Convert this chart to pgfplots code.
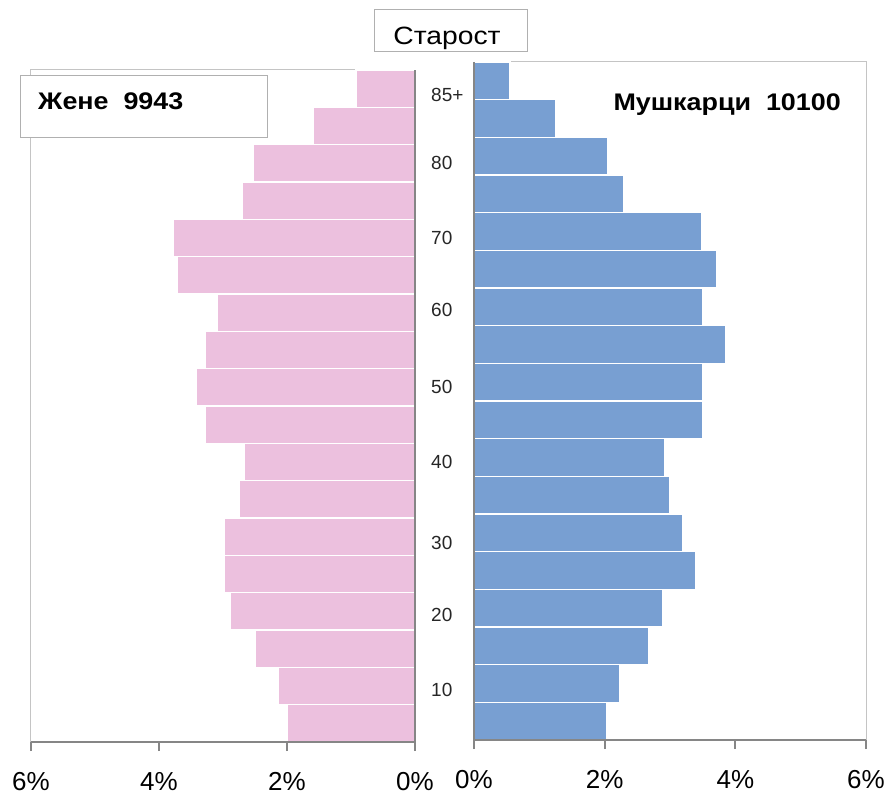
\documentclass[border=0pt]{standalone}
\usepackage{fontspec}
\setmainfont{Liberation Sans}
\usepackage{graphicx}
\usepackage{pgfplots}
\pgfplotsset{compat=1.18}
\definecolor{pinkc}{HTML}{ECC0DE}
\definecolor{bluec}{HTML}{789FD2}
\definecolor{framegray}{HTML}{C4C4C4}
\definecolor{boxgray}{HTML}{B0B0B0}
\definecolor{axgray}{HTML}{868686}
\begin{document}
\begin{tikzpicture}[x=1pt,y=1pt]
\path[use as bounding box] (0pt,0pt) rectangle (890pt,795pt);
% women
\begin{axis}[
  at={(31pt,53pt)}, anchor=south west, scale only axis,
  width=384pt, height=672pt,
  xmin=0, xmax=6, x dir=reverse, ymin=-0.5, ymax=17.5,
  clip=false, axis line style={draw=none},
  xtick={0,2,4,6}, xticklabels={0\%,2\%,4\%,6\%},
  xtick pos=bottom, xtick align=outside, ytick=\empty,
  major tick length=9pt,
  tick style={draw=axgray, line width=2pt},
  xticklabel style={font=\fontsize{26}{26}\selectfont, yshift=-18pt},
]
\draw[framegray, line width=1pt] (axis cs:6,-0.5) -- (axis cs:6,17.5) -- (axis cs:0,17.5);
\addplot[xbar, bar width=1, fill=pinkc, draw=white, line width=1.3pt] coordinates {
(2.00,0) (2.14,1) (2.50,2) (2.88,3) (2.98,4) (2.98,5) (2.75,6) (2.67,7) (3.27,8)
(3.42,9) (3.27,10) (3.09,11) (3.72,12) (3.77,13) (2.70,14) (2.52,15) (1.59,16) (0.92,17)};
\draw[axgray, line width=2pt] (axis cs:6,-0.5) -- (axis cs:0,-0.5) -- (axis cs:0,17.5);
\begin{scope}[every node/.style={anchor=west, font=\fontsize{19}{19}\selectfont, text=black!85, inner sep=0pt}]
\node at (axis cs:-0.25,16.82) {85+};
\node at (axis cs:-0.25,15) {80};
\node at (axis cs:-0.25,13) {70};
\node at (axis cs:-0.25,11.08) {60};
\node at (axis cs:-0.25,9) {50};
\node at (axis cs:-0.25,7) {40};
\node at (axis cs:-0.25,4.84) {30};
\node at (axis cs:-0.25,2.9) {20};
\node at (axis cs:-0.25,0.9) {10};
\end{scope}
\end{axis}
% men
\begin{axis}[
  at={(474pt,55pt)}, anchor=south west, scale only axis,
  width=392pt, height=678pt,
  xmin=0, xmax=6, ymin=-0.5, ymax=17.5,
  clip=false, axis line style={draw=none},
  xtick={0,2,4,6}, xticklabels={0\%,2\%,4\%,6\%},
  xtick pos=bottom, xtick align=outside, ytick=\empty,
  major tick length=9pt,
  tick style={draw=axgray, line width=2pt},
  xticklabel style={font=\fontsize{26}{26}\selectfont, yshift=-18pt},
]
\draw[framegray, line width=1pt] (axis cs:0,17.5) -- (axis cs:6,17.5) -- (axis cs:6,-0.5);
\addplot[xbar, bar width=1, fill=bluec, draw=white, line width=1.3pt] coordinates {
(2.03,0) (2.23,1) (2.68,2) (2.89,3) (3.39,4) (3.20,5) (3.00,6) (2.92,7) (3.50,8)
(3.50,9) (3.85,10) (3.50,11) (3.72,12) (3.49,13) (2.29,14) (2.05,15) (1.25,16) (0.55,17)};
\draw[axgray, line width=2pt] (axis cs:0,17.5) -- (axis cs:0,-0.5) -- (axis cs:6,-0.5);
\end{axis}
% title boxes
\draw[boxgray, fill=white, line width=1pt] (374pt,743pt) rectangle (527pt,785pt);
\node[anchor=base, font=\fontsize{25}{25}\selectfont, inner sep=0pt] at (447pt,750pt) {\scalebox{1.13}[1]{Старост}};
\draw[boxgray, fill=white, line width=1pt] (20pt,719pt) rectangle (267pt,657pt);
\node[anchor=base west, font=\bfseries\fontsize{24}{24}\selectfont, inner sep=0pt] at (38pt,685pt) {\scalebox{1.12}[1]{Жене\ \ 9943}};
\node[anchor=base east, font=\bfseries\fontsize{24}{24}\selectfont, inner sep=0pt] at (841pt,684pt) {\scalebox{1.12}[1]{Мушкарци\ \ 10100}};
\end{tikzpicture}
\end{document}
